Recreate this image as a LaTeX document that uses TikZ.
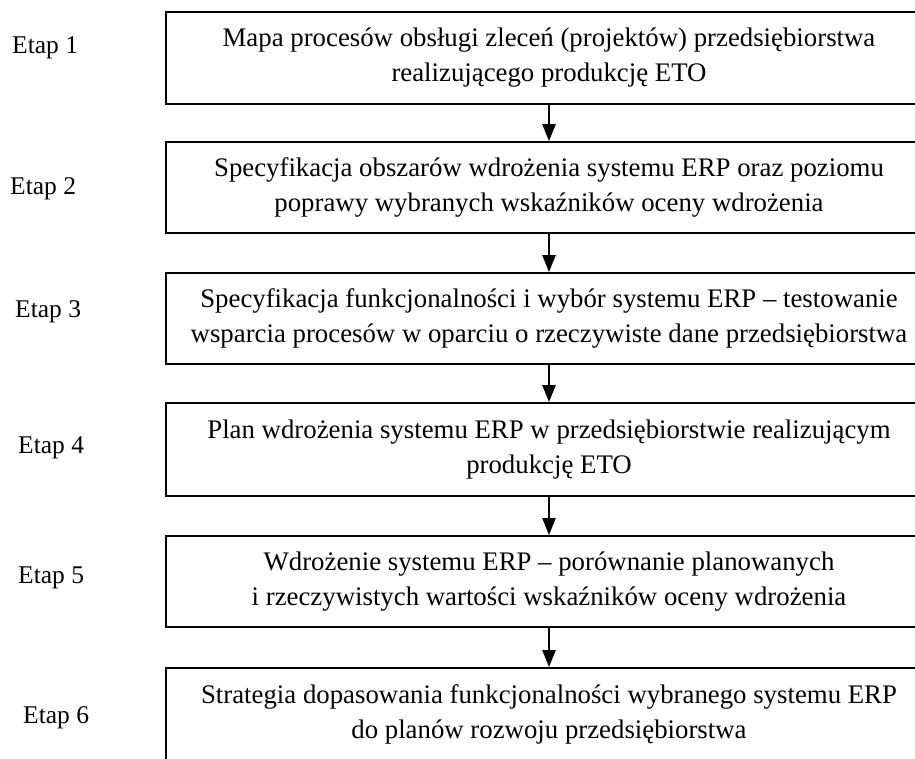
\documentclass[tikz,border=0pt]{standalone}
\usepackage{fontspec}
\setmainfont{Liberation Serif}
\usepackage{tikz}
\usetikzlibrary{arrows.meta}

\tikzset{
  etapbox/.style={draw, line width=1.8pt, minimum width=766pt, minimum height=92pt,
    align=center, font=\fontsize{26.8}{35}\selectfont},
  etaplabel/.style={anchor=base west, inner sep=0pt, font=\fontsize{25.5}{30}\selectfont},
  etaparrow/.style={line width=2.4pt, -{Triangle[length=17pt,width=13pt]}}
}

\begin{document}
\begin{tikzpicture}[x=1pt, y=-1pt]
\useasboundingbox (0,0) rectangle (915,758);
\clip (0,0) rectangle (915,758);

% stage boxes (right and bottom edges run past the page)
\node[etapbox] (b1) at (549,58) {Mapa procesów obsługi zleceń (projektów) przedsiębiorstwa\\ realizującego produkcję ETO};
\node[etapbox, minimum height=91pt] (b2) at (549,187.5) {Specyfikacja obszarów wdrożenia systemu ERP oraz poziomu\\ poprawy wybranych wskaźników oceny wdrożenia};
\node[etapbox, minimum height=91pt] (b3) at (549,318.5) {Specyfikacja funkcjonalności i wybór systemu ERP -- testowanie\\ wsparcia procesów w oparciu o rzeczywiste dane przedsiębiorstwa};
\node[etapbox, minimum height=93pt] (b4) at (549,449.5) {Plan wdrożenia systemu ERP w przedsiębiorstwie realizującym\\ produkcję ETO};
\node[etapbox, minimum height=91pt] (b5) at (549,581.5) {Wdrożenie systemu ERP -- porównanie planowanych\\ i rzeczywistych wartości wskaźników oceny wdrożenia};
\node[etapbox] (b6) at (549,714) {Strategia dopasowania funkcjonalności wybranego systemu ERP\\ do planów rozwoju przedsiębiorstwa};

% stage labels
\node[etaplabel] (e1) at (12,53) {Etap 1};
\node[etaplabel] (e2) at (10,194) {Etap 2};
\node[etaplabel] (e3) at (15,317) {Etap 3};
\node[etaplabel] (e4) at (18,453) {Etap 4};
\node[etaplabel] (e5) at (18,583) {Etap 5};
\node[etaplabel] (e6) at (23,723) {Etap 6};

% arrows
\draw[etaparrow] (b1.south) -- (b2.north);
\draw[etaparrow] (b2.south) -- (b3.north);
\draw[etaparrow] (b3.south) -- (b4.north);
\draw[etaparrow] (b4.south) -- (b5.north);
\draw[etaparrow] (b5.south) -- (b6.north);
\end{tikzpicture}
\end{document}
